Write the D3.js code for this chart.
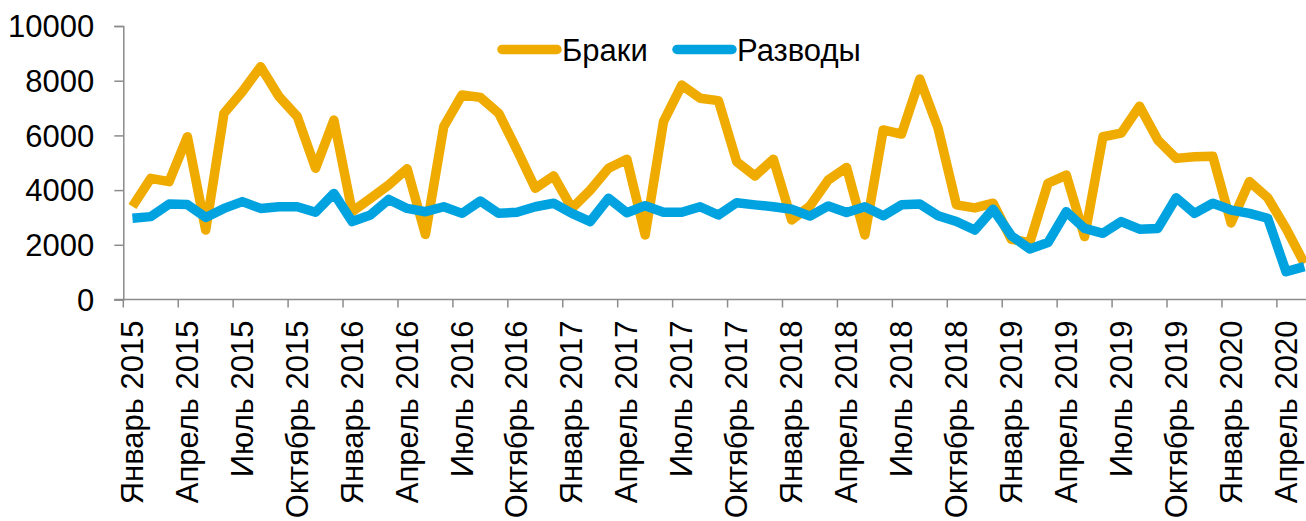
<!DOCTYPE html>
<html>
<head>
<meta charset="utf-8">
<script src="https://cdn.jsdelivr.net/npm/d3@7"></script>
<style>
  html, body { margin: 0; padding: 0; background: #fff; overflow: hidden; }
  svg { display: block; font-family: "Liberation Sans", Arial, sans-serif; }
</style>
</head>
<body>
<svg id="chart" width="1306" height="521"></svg>
<script>
// Monthly counts, January 2015 – May 2020
const monthNames = ["Январь", "Февраль", "Март", "Апрель", "Май", "Июнь",
                    "Июль", "Август", "Сентябрь", "Октябрь", "Ноябрь", "Декабрь"];
const years = [2015, 2016, 2017, 2018, 2019, 2020];
const monthCount = 65;

const marriages = [
  3400, 4430, 4310, 5950, 2540, 6810, 7600, 8510, 7420, 6690, 4800, 6560,
  3210, 3700, 4190, 4780, 2380, 6320, 7480, 7390, 6810, 5470, 4070, 4520,
  3330, 4000, 4800, 5130, 2360, 6500, 7840, 7360, 7270, 5040, 4520, 5130,
  2910, 3420, 4370, 4830, 2360, 6200, 6050, 8060, 6260, 3460, 3350, 3520,
  2200, 2080, 4250, 4550, 2300, 5950, 6080, 7070, 5830, 5160, 5220, 5240,
  2800, 4310, 3720, 2600, 1320
];
const divorces = [
  2970, 3030, 3490, 3470, 3000, 3330, 3580, 3330, 3390, 3390, 3190, 3880,
  2850, 3090, 3660, 3330, 3210, 3390, 3150, 3600, 3150, 3190, 3390, 3520,
  3150, 2850, 3700, 3170, 3430, 3190, 3190, 3390, 3090, 3540, 3460, 3390,
  3300, 3050, 3420, 3180, 3390, 3060, 3460, 3490, 3060, 2850, 2540, 3300,
  2330, 1850, 2080, 3210, 2600, 2420, 2850, 2570, 2600, 3720, 3150, 3520,
  3270, 3150, 2970, 1020, 1200
];
const yTicks = [0, 2000, 4000, 6000, 8000, 10000];

const seriesInfo = [
  { name: "Браки",   values: marriages, color: "#F0AB00" },
  { name: "Разводы", values: divorces,  color: "#00A3DF" }
];

const categories = d3.range(monthCount).map(i =>
  monthNames[i % 12] + " " + years[Math.floor(i / 12)]);

const svg = d3.select("#chart");
const plotLeft = 123.3, plotRight = 1313.5, plotTop = 26, plotBottom = 299.5;
const axisColor = "#8C8C8C";
const fontSize = 31;

const x = d3.scaleBand().domain(categories).range([plotLeft, plotRight]).padding(0);
const y = d3.scaleLinear().domain([0, 10000]).range([plotBottom, plotTop]);

// Y axis
const yAxis = svg.append("g").attr("transform", `translate(${plotLeft},0)`)
  .call(d3.axisLeft(y).tickValues(yTicks).tickSize(9).tickPadding(20).tickFormat(d3.format("d")));
yAxis.select(".domain").attr("stroke", axisColor).attr("stroke-width", 1.5);
yAxis.selectAll(".tick line").attr("stroke", axisColor).attr("stroke-width", 1.5);
yAxis.selectAll(".tick text").attr("fill", "#000").style("font-size", fontSize + "px")
  .attr("dy", "0.35em");

// X axis line and tick marks on every third category boundary
const xg = svg.append("g");
xg.append("line").attr("x1", plotLeft - 9).attr("x2", plotRight)
  .attr("y1", plotBottom).attr("y2", plotBottom)
  .attr("stroke", axisColor).attr("stroke-width", 1.5);
const boundaryIdx = d3.range(0, monthCount + 1, 3);
xg.selectAll("line.tk").data(boundaryIdx).join("line").attr("class", "tk")
  .attr("x1", i => plotLeft + i * x.step()).attr("x2", i => plotLeft + i * x.step())
  .attr("y1", plotBottom).attr("y2", plotBottom + 8)
  .attr("stroke", axisColor).attr("stroke-width", 1.5);

// Rotated month labels for every third month
const labelled = categories.filter((c, i) => i % 3 === 0);
xg.selectAll("text").data(labelled).join("text")
  .attr("transform", c => `translate(${x(c) + x.bandwidth() / 2 + 10.5},${plotBottom + 21}) rotate(-90)`)
  .attr("text-anchor", "end")
  .attr("fill", "#000")
  .style("font-size", fontSize + "px")
  .text(c => c);

// Series lines (divorces drawn on top)
const line = d3.line()
  .x((d, i) => x(categories[i]) + x.bandwidth() / 2)
  .y(d => y(d));

svg.append("g").selectAll("path").data(seriesInfo).join("path")
  .attr("d", s => line(s.values))
  .attr("fill", "none")
  .attr("stroke", s => s.color)
  .attr("stroke-width", 9.5)
  .attr("stroke-linejoin", "round")
  .attr("stroke-linecap", "butt");

// Legend
const legendPos = [{ x: 502, textX: 562 }, { x: 677, textX: 737 }];
const legend = svg.append("g").selectAll("g").data(seriesInfo).join("g");
legend.append("line")
  .attr("x1", (s, i) => legendPos[i].x).attr("x2", (s, i) => legendPos[i].x + 55)
  .attr("y1", 49.5).attr("y2", 49.5)
  .attr("stroke", s => s.color).attr("stroke-width", 9.5).attr("stroke-linecap", "round");
legend.append("text")
  .attr("x", (s, i) => legendPos[i].textX).attr("y", 61)
  .attr("fill", "#000").style("font-size", fontSize + "px")
  .text(s => s.name);
</script>
</body>
</html>
